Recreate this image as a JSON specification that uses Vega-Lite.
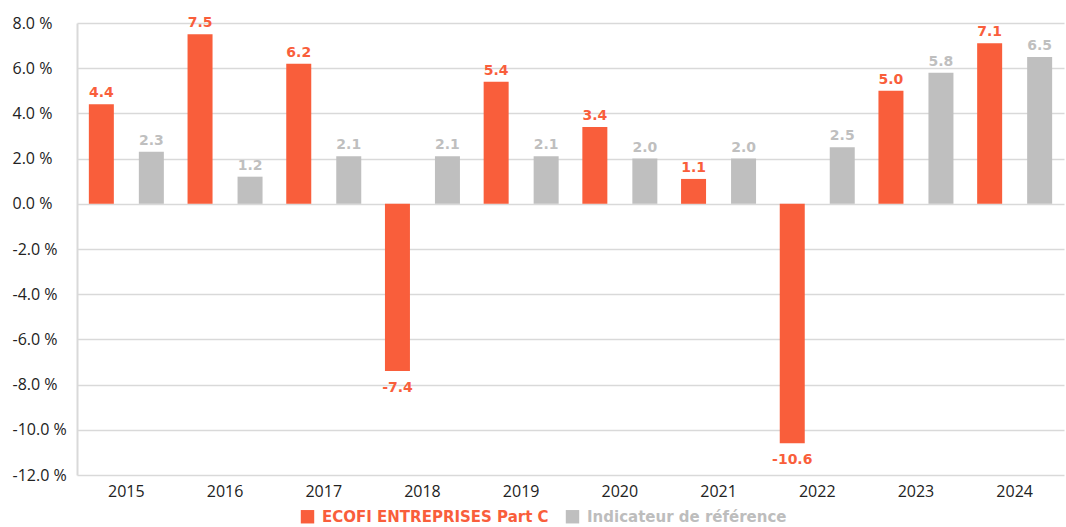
{
  "$schema": "https://vega.github.io/schema/vega-lite/v6.json",
  "width": 987,
  "height": 452,
  "autosize": {"type": "none"},
  "padding": {"left": 77, "top": 23, "right": 2, "bottom": 52},
  "background": "white",
  "config": {
    "view": {"stroke": null},
    "font": "Open Sans",
    "locale": {"number": {"decimal": ".", "thousands": ",", "grouping": [3], "currency": ["$", ""], "minus": "-"}}
  },
  "data": {
    "values": [
      {"year": "2015", "series": "ECOFI ENTREPRISES Part C", "value": 4.4},
      {"year": "2015", "series": "Indicateur de référence", "value": 2.3},
      {"year": "2016", "series": "ECOFI ENTREPRISES Part C", "value": 7.5},
      {"year": "2016", "series": "Indicateur de référence", "value": 1.2},
      {"year": "2017", "series": "ECOFI ENTREPRISES Part C", "value": 6.2},
      {"year": "2017", "series": "Indicateur de référence", "value": 2.1},
      {"year": "2018", "series": "ECOFI ENTREPRISES Part C", "value": -7.4},
      {"year": "2018", "series": "Indicateur de référence", "value": 2.1},
      {"year": "2019", "series": "ECOFI ENTREPRISES Part C", "value": 5.4},
      {"year": "2019", "series": "Indicateur de référence", "value": 2.1},
      {"year": "2020", "series": "ECOFI ENTREPRISES Part C", "value": 3.4},
      {"year": "2020", "series": "Indicateur de référence", "value": 2.0},
      {"year": "2021", "series": "ECOFI ENTREPRISES Part C", "value": 1.1},
      {"year": "2021", "series": "Indicateur de référence", "value": 2.0},
      {"year": "2022", "series": "ECOFI ENTREPRISES Part C", "value": -10.6},
      {"year": "2022", "series": "Indicateur de référence", "value": 2.5},
      {"year": "2023", "series": "ECOFI ENTREPRISES Part C", "value": 5.0},
      {"year": "2023", "series": "Indicateur de référence", "value": 5.8},
      {"year": "2024", "series": "ECOFI ENTREPRISES Part C", "value": 7.1},
      {"year": "2024", "series": "Indicateur de référence", "value": 6.5}
    ]
  },
  "encoding": {
    "x": {
      "field": "year", "type": "nominal", "title": null,
      "scale": {"paddingInner": 0, "paddingOuter": 0},
      "axis": {"labelAngle": 0, "domain": false, "ticks": false, "labelPadding": 8, "labelFontSize": 16, "labelColor": "#222222", "grid": false}
    },
    "xOffset": {
      "field": "series", "type": "nominal",
      "scale": {"domain": ["ECOFI ENTREPRISES Part C", "Indicateur de référence"], "paddingInner": 0.5, "paddingOuter": 0.237}
    },
    "y": {
      "field": "value", "type": "quantitative", "title": null,
      "scale": {"domain": [-12, 8], "nice": false, "zero": false},
      "axis": {
        "values": [-12, -10, -8, -6, -4, -2, 0, 2, 4, 6, 8],
        "labelExpr": "format(datum.value, '.1f') + ' %'",
        "domain": true, "domainColor": "#d9d9d9", "domainWidth": 2,
        "ticks": false, "labelPadding": 65, "labelAlign": "left", "labelFontSize": 16, "labelColor": "#222222",
        "grid": true, "gridColor": "#d9d9d9", "gridWidth": 1.5
      }
    }
  },
  "layer": [
    {
      "mark": {"type": "bar", "width": 25},
      "encoding": {
        "color": {
          "field": "series", "type": "nominal",
          "scale": {"domain": ["ECOFI ENTREPRISES Part C", "Indicateur de référence"], "range": ["#F95E3B", "#BFBFBF"]},
          "legend": {
            "title": null, "orient": "none", "direction": "horizontal",
            "legendX": 223, "legendY": 486,
            "symbolType": "square", "symbolSize": 180, "symbolStrokeWidth": 0,
            "labelFont": "DejaVu Sans", "labelFontSize": 15, "labelFontWeight": "bold", "labelLimit": 0, "labelOffset": 7, "columnPadding": 16,
            "encode": {
              "labels": {"update": {"fill": {"signal": "datum.value == 'ECOFI ENTREPRISES Part C' ? '#F95E3B' : '#BDBDBD'"}}}
            }
          }
        }
      }
    },
    {
      "transform": [{"filter": "datum.value >= 0"}],
      "mark": {"type": "text", "baseline": "alphabetic", "dy": -7, "font": "DejaVu Sans", "fontSize": 14, "fontWeight": "bold"},
      "encoding": {
        "text": {"field": "value", "type": "quantitative", "format": ".1f"},
        "color": {"field": "series", "type": "nominal", "legend": null}
      }
    },
    {
      "transform": [{"filter": "datum.value < 0"}],
      "mark": {"type": "text", "baseline": "alphabetic", "dy": 21, "font": "DejaVu Sans", "fontSize": 14, "fontWeight": "bold"},
      "encoding": {
        "text": {"field": "value", "type": "quantitative", "format": ".1f"},
        "color": {"field": "series", "type": "nominal", "legend": null}
      }
    }
  ]
}
